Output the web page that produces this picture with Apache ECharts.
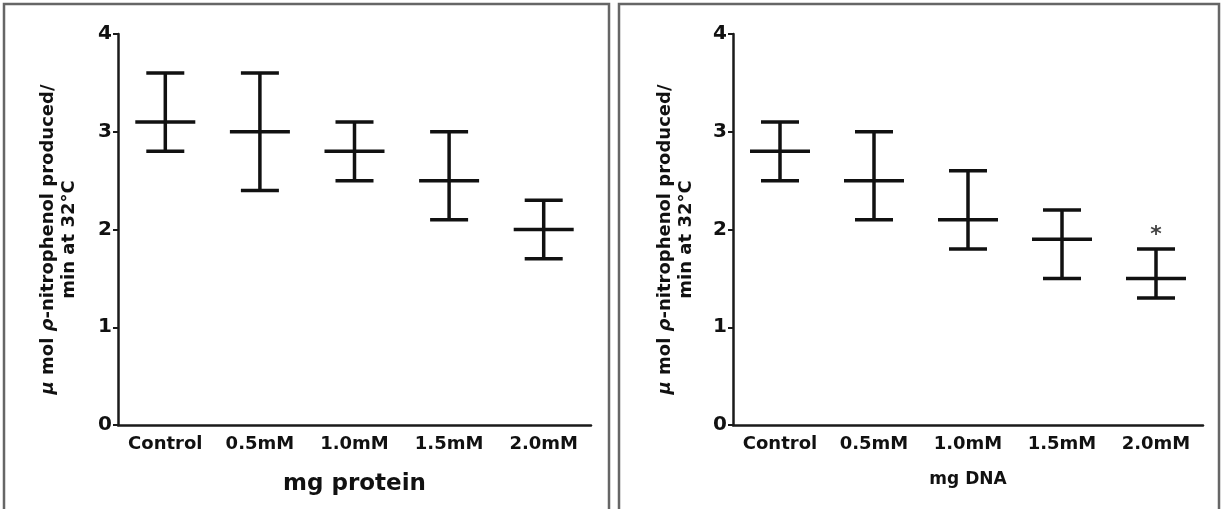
<!DOCTYPE html>
<html>
<head>
<meta charset="utf-8">
<script src="https://cdn.jsdelivr.net/npm/echarts@6/dist/echarts.min.js"></script>
<style>
  html, body { margin: 0; padding: 0; background: #fff; }
  #chart { width: 1221px; height: 509px; }
</style>
</head>
<body>
<div id="chart"></div>
<script>
const categories = ["Control", "0.5mM", "1.0mM", "1.5mM", "2.0mM"];

// left panel: mg protein
const proteinMean = [3.1, 3.0, 2.8, 2.5, 2.0];
const proteinLow = [2.8, 2.4, 2.5, 2.1, 1.7];
const proteinHigh = [3.6, 3.6, 3.1, 3.0, 2.3];

// right panel: mg DNA
const dnaMean = [2.8, 2.5, 2.1, 1.9, 1.5];
const dnaLow = [2.5, 2.1, 1.8, 1.5, 1.3];
const dnaHigh = [3.1, 3.0, 2.6, 2.2, 1.8];
const dnaSig = ["", "", "", "", "*"];

const FONT = "DejaVu Sans";
const INK = "#111";

const chart = echarts.init(document.getElementById("chart"));

function toRows(mean, low, high) {
  return categories.map((c, i) => [i, mean[i], low[i], high[i]]);
}

// mean line + SD whiskers
function renderErrorBar(params, api) {
  const idx = api.value(0);
  const m = api.coord([idx, api.value(1)]);
  const lo = api.coord([idx, api.value(2)]);
  const hi = api.coord([idx, api.value(3)]);
  const meanHalf = 30;
  const capHalf = 19;
  const style = { stroke: INK, lineWidth: 3.5 };
  return {
    type: "group",
    children: [
      { type: "line", shape: { x1: hi[0], y1: hi[1], x2: lo[0], y2: lo[1] }, style },
      { type: "line", shape: { x1: hi[0] - capHalf, y1: hi[1], x2: hi[0] + capHalf, y2: hi[1] }, style },
      { type: "line", shape: { x1: lo[0] - capHalf, y1: lo[1], x2: lo[0] + capHalf, y2: lo[1] }, style },
      { type: "line", shape: { x1: m[0] - meanHalf, y1: m[1], x2: m[0] + meanHalf, y2: m[1] }, style },
    ],
  };
}

const yName = "{i|\u03bc} mol {i|\u03c1}-nitrophenol produced/\nmin at 32\u00b0C";

function yAxisFor(gridIndex, gap) {
  return {
    type: "value",
    gridIndex,
    min: 0,
    max: 4,
    interval: 1,
    name: yName,
    nameLocation: "middle",
    nameRotate: 90,
    nameGap: gap,
    nameTextStyle: {
      fontFamily: FONT,
      fontWeight: "bold",
      fontSize: 18,
      lineHeight: 21,
      color: INK,
      padding: [0, 20, 0, 0],
      rich: {
        i: { fontFamily: FONT, fontWeight: "bold", fontStyle: "italic", fontSize: 18, color: INK },
      },
    },
    axisLine: { show: true, lineStyle: { color: "#1a1a1a", width: 2.5 } },
    axisTick: { show: true, length: 5, lineStyle: { color: "#1a1a1a", width: 2 } },
    axisLabel: { fontFamily: FONT, fontWeight: "bold", fontSize: 20, color: INK, margin: 6 },
    splitLine: { show: false },
  };
}

function xAxisFor(gridIndex, name, nameSize, gap) {
  return {
    type: "category",
    gridIndex,
    data: categories,
    name,
    nameLocation: "middle",
    nameGap: gap,
    nameTextStyle: { fontFamily: FONT, fontWeight: "bold", fontSize: nameSize, color: INK },
    axisLine: { lineStyle: { color: "#1a1a1a", width: 2.5 } },
    axisTick: { alignWithLabel: true, length: 6, lineStyle: { color: "#1a1a1a", width: 2 } },
    axisLabel: { fontFamily: FONT, fontWeight: "bold", fontSize: 18, color: INK, margin: 10, interval: 0 },
  };
}

const option = {
  backgroundColor: "#fff",
  animation: false,
  graphic: [
    // panel frames
    { type: "rect", shape: { x: 4, y: 4, width: 605, height: 520 }, style: { fill: "none", stroke: "#666", lineWidth: 2.5 } },
    { type: "rect", shape: { x: 619, y: 4, width: 600, height: 520 }, style: { fill: "none", stroke: "#666", lineWidth: 2.5 } },
  ],
  grid: [
    { left: 118, top: 34, width: 473, height: 391 },
    { left: 733, top: 34, width: 470, height: 391 },
  ],
  xAxis: [
    xAxisFor(0, "mg protein", 23, 48),
    xAxisFor(1, "mg DNA", 17, 46),
  ],
  yAxis: [yAxisFor(0, 38), yAxisFor(1, 36)],
  series: [
    {
      type: "custom",
      xAxisIndex: 0,
      yAxisIndex: 0,
      renderItem: renderErrorBar,
      encode: { x: 0, y: [1, 2, 3] },
      data: toRows(proteinMean, proteinLow, proteinHigh),
    },
    {
      type: "custom",
      xAxisIndex: 1,
      yAxisIndex: 1,
      renderItem: renderErrorBar,
      encode: { x: 0, y: [1, 2, 3] },
      data: toRows(dnaMean, dnaLow, dnaHigh),
    },
    {
      type: "scatter",
      xAxisIndex: 1,
      yAxisIndex: 1,
      symbolSize: 1,
      itemStyle: { color: "rgba(0,0,0,0)" },
      label: {
        show: true,
        position: "top",
        distance: 2,
        formatter: (p) => dnaSig[p.value[0]],
        fontFamily: FONT,
        fontWeight: "bold",
        fontSize: 22,
        color: INK,
      },
      data: categories.map((c, i) => [i, dnaHigh[i]]).filter((d) => dnaSig[d[0]] !== ""),
    },
  ],
};

chart.setOption(option);
</script>
</body>
</html>
